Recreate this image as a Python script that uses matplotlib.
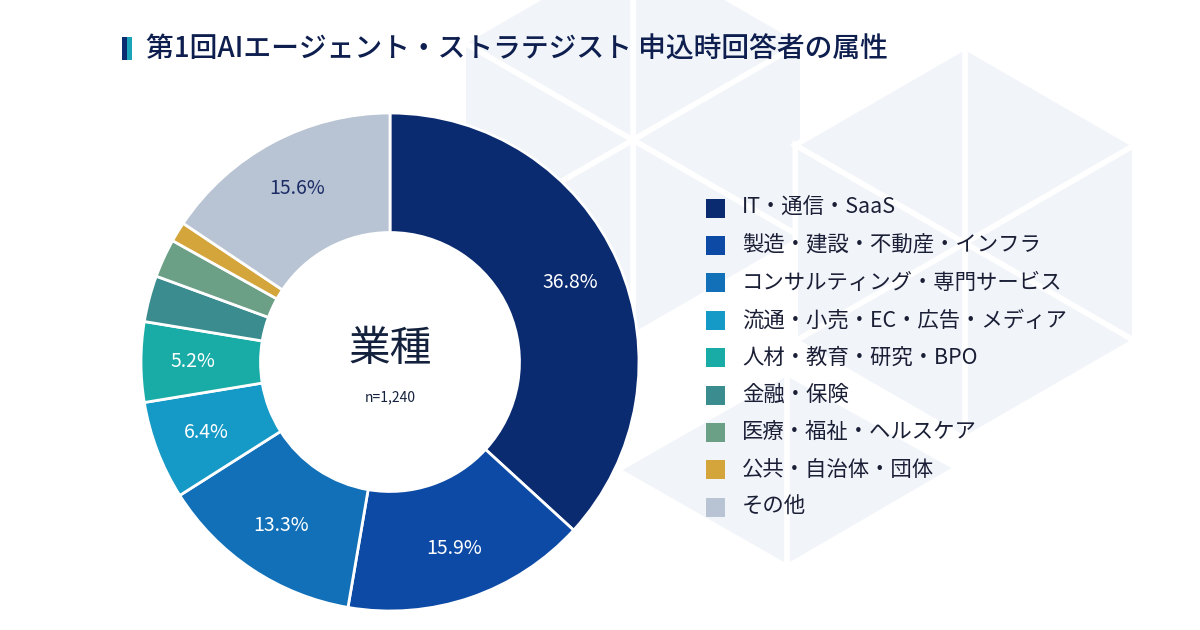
import numpy as np
import matplotlib
matplotlib.use("Agg")
import matplotlib.pyplot as plt
from matplotlib.patches import Polygon, Rectangle

plt.rcParams['font.family'] = ['Noto Sans CJK JP', 'DejaVu Sans']

# data
title = "第1回AIエージェント・ストラテジスト 申込時回答者の属性"
center_label = "業種"
n_label = "n=1,240"
categories = ["IT・通信・SaaS", "製造・建設・不動産・インフラ", "コンサルティング・専門サービス",
              "流通・小売・EC・広告・メディア", "人材・教育・研究・BPO", "金融・保険",
              "医療・福祉・ヘルスケア", "公共・自治体・団体", "その他"]
shares = [36.8, 15.9, 13.3, 6.4, 5.2, 3.0, 2.5, 1.3, 15.6]
colors = ["#0b2b70", "#0c4aa5", "#1170b7", "#1599c6", "#19aca6", "#3a8c8e",
          "#6b9f86", "#d4a53b", "#b8c3d3"]
show_label = [True, True, True, True, True, False, False, False, True]

W, H = 1200, 630
fig = plt.figure(figsize=(12, 6.3), dpi=100)
fig.patch.set_facecolor("white")

# background decoration (pixel coords)
bg = fig.add_axes([0, 0, 1, 1])
bg.set_xlim(0, W)
bg.set_ylim(H, 0)
bg.axis("off")


def hexagon(cx, cy, r):
    w = r * np.sqrt(3) / 2
    pts = [(cx, cy - r), (cx + w, cy - r / 2), (cx + w, cy + r / 2),
           (cx, cy + r), (cx - w, cy + r / 2), (cx - w, cy - r / 2)]
    return [[(cx, cy), pts[i], pts[(i + 1) % 6]] for i in range(6)]


tris = hexagon(633, 140, 196) + hexagon(965, 243, 196)
tris += [[(617, 470), (787, 373), (787, 567)], [(787, 373), (957, 468), (787, 567)]]
for t in tris:
    bg.add_patch(Polygon(t, closed=True, facecolor="#f1f4f9", edgecolor="white", linewidth=4))

# title with marker
bg.add_patch(Rectangle((122, 37), 5, 23, facecolor="#0b2b70", edgecolor="none"))
bg.add_patch(Rectangle((127, 37), 5, 23, facecolor="#1aa3b9", edgecolor="none"))
bg.text(146, 49, title, fontsize=20, fontweight="medium", color="#0e1f4f",
        va="center", ha="left")

# donut
cx, cy, R = 390, 362, 249
ax = fig.add_axes([(cx - R) / W, (H - cy - R) / H, 2 * R / W, 2 * R / H])
wedges, _ = ax.pie(shares, colors=colors, startangle=90, counterclock=False, radius=1,
                   wedgeprops=dict(width=0.48, edgecolor="white", linewidth=2))
ax.set_xlim(-1, 1)
ax.set_ylim(-1, 1)
ax.axis("off")

for w, s, show, col in zip(wedges, shares, show_label, colors):
    if not show:
        continue
    ang = np.deg2rad((w.theta1 + w.theta2) / 2)
    tc = "#1c2d66" if col == "#b8c3d3" else "white"
    ax.text(0.79 * np.cos(ang), 0.79 * np.sin(ang), f"{s:.1f}%", ha="center", va="center",
            fontsize=14, color=tc)

ax.text(0, 0.05, center_label, ha="center", va="center", fontsize=30, color="#14213d")
ax.text(0, -0.14, n_label, ha="center", va="center", fontsize=10, color="#14213d")

# legend
for i, (lab, col) in enumerate(zip(categories, colors)):
    y = 208 + i * 37.4
    bg.add_patch(Rectangle((706, y - 9.5), 19, 19, facecolor=col, edgecolor="none"))
    bg.text(742, y, lab, fontsize=15.4, color="#1a1f36", va="center", ha="left")

fig.savefig("out.png", dpi=100, facecolor="white")
